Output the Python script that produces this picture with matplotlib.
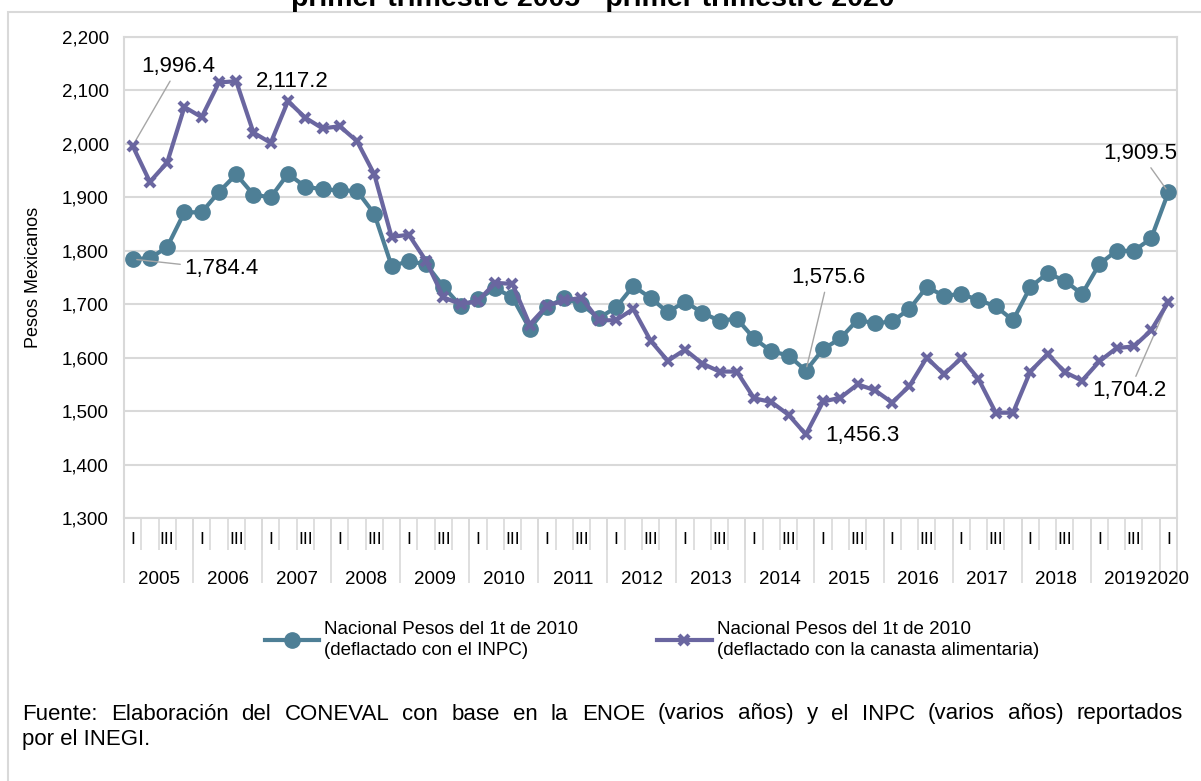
import matplotlib
matplotlib.use("Agg")
import matplotlib.pyplot as plt
from matplotlib.patches import Rectangle
from matplotlib.ticker import FuncFormatter
import numpy as np

plt.rcParams['font.family'] = ['Liberation Sans', 'DejaVu Sans']

# datos trimestrales, 1t 2005 - 1t 2020
anios = [str(a) for a in range(2005, 2021)]
trimestres = ["I", "II", "III", "IV"]

inpc = [1784.4, 1786, 1807, 1872,
        1872, 1910, 1943, 1905,
        1900, 1944, 1920, 1915,
        1913, 1912, 1869, 1772,
        1780, 1775, 1733, 1697,
        1709, 1730, 1713, 1654,
        1695, 1711, 1700, 1674,
        1694, 1734, 1712, 1685,
        1705, 1684, 1669, 1673,
        1636, 1612, 1604, 1575.6,
        1616, 1636, 1671, 1664,
        1668, 1691, 1732, 1716,
        1719, 1708, 1696, 1670,
        1732, 1758, 1744, 1719,
        1775, 1800, 1800, 1823,
        1909.5]

canasta = [1996.4, 1929, 1965, 2069,
           2050, 2115, 2117.2, 2021,
           2002, 2080, 2049, 2029,
           2033, 2005, 1943, 1826,
           1830, 1781, 1713, 1700,
           1706, 1740, 1738, 1662,
           1697, 1707, 1712, 1670,
           1670, 1691, 1632, 1594,
           1615, 1589, 1574, 1574,
           1524, 1517, 1493, 1456.3,
           1518, 1525, 1550, 1539,
           1516, 1547, 1600, 1569,
           1599, 1560, 1497, 1497,
           1574, 1607, 1573, 1557,
           1593, 1618, 1621, 1651,
           1704.2]

etiqueta_inpc = "Nacional Pesos del 1t de 2010\n(deflactado con el INPC)"
etiqueta_canasta = "Nacional Pesos del 1t de 2010\n(deflactado con la canasta alimentaria)"
titulo = "primer trimestre 2005 - primer trimestre 2020"
fuente = ["Fuente: Elaboración del CONEVAL con base en la ENOE (varios años) y el INPC (varios años) reportados",
          "por el INEGI."]

color_inpc = "#4E7F96"
color_canasta = "#6A66A0"
gris = "#D9D9D9"

n = len(inpc)
x = np.arange(n)
W, H = 1201, 781

fig = plt.figure(figsize=(12.01, 7.81), dpi=100)
ax = fig.add_axes([124 / W, 1 - 518 / H, (1177 - 124) / W, (518 - 37) / H])

ax.plot(x, inpc, color=color_inpc, lw=3, marker="o", markersize=11, label=etiqueta_inpc, zorder=3)
ax.plot(x, canasta, color=color_canasta, lw=3, marker="x", markersize=7.5, mew=3, label=etiqueta_canasta, zorder=4)

ax.set_xlim(-0.5, n - 0.5)
ax.set_ylim(1300, 2200)
ax.set_yticks(np.arange(1300, 2201, 100))
ax.yaxis.set_major_formatter(FuncFormatter(lambda v, p: f"{v:,.0f}"))
ax.grid(axis="y", color=gris, lw=1.5)
ax.set_axisbelow(True)
for s in ax.spines.values():
    s.set_color(gris)
    s.set_linewidth(1.5)
ax.tick_params(axis="y", length=0, pad=11, labelsize=13.5)
ax.set_ylabel("Pesos Mexicanos", fontsize=13, labelpad=14)

# eje de categorias en dos niveles
qlab = [("I" if i % 4 == 0 else "III" if i % 4 == 2 else "") for i in range(n)]
ax.set_xticks(x, qlab)
ax.set_xticks(np.arange(-0.5, n, 1), minor=True)
ax.tick_params(axis="x", which="major", length=0, pad=10, labelsize=12.5)
ax.tick_params(axis="x", which="minor", length=23, width=1.2, color=gris)

sec = ax.secondary_xaxis("bottom")
limites = list(np.arange(-0.5, n, 4)) + [n - 0.5]
centros = [(limites[i] + limites[i + 1]) / 2 for i in range(len(limites) - 1)]
sec.set_xticks(limites, [""] * len(limites))
sec.set_xticks(centros, anios, minor=True)
sec.tick_params(axis="x", which="major", length=47, width=1.2, color=gris)
sec.tick_params(axis="x", which="minor", length=0, pad=38, labelsize=13.5)
sec.spines["bottom"].set_visible(False)

# etiquetas de datos
lider = dict(arrowstyle="-", color="#A6A6A6", lw=1, shrinkA=1, shrinkB=3)
fs = 16
ax.annotate("1,996.4", (0, canasta[0]), xytext=(33, 57), textcoords="offset points",
            ha="center", va="center", fontsize=fs, arrowprops=lider)
ax.annotate("2,117.2", (6, canasta[6]), xytext=(40, 0), textcoords="offset points",
            ha="center", va="center", fontsize=fs)
ax.annotate("1,784.4", (0, inpc[0]), xytext=(64, -7), textcoords="offset points",
            ha="center", va="center", fontsize=fs, arrowprops=lider)
ax.annotate("1,575.6", (39, inpc[39]), xytext=(16, 67), textcoords="offset points",
            ha="center", va="center", fontsize=fs, arrowprops=lider)
ax.annotate("1,456.3", (39, canasta[39]), xytext=(41, -1), textcoords="offset points",
            ha="center", va="center", fontsize=fs)
ax.annotate("1,909.5", (60, inpc[60]), xytext=(-20, 28), textcoords="offset points",
            ha="center", va="center", fontsize=fs, arrowprops=lider)
ax.annotate("1,704.2", (60, canasta[60]), xytext=(-28, -64), textcoords="offset points",
            ha="center", va="center", fontsize=fs, arrowprops=lider)

leg = fig.legend(loc="center", bbox_to_anchor=(652 / W, 1 - 640 / H), ncol=2, frameon=False,
                 fontsize=13.5, handlelength=2.9, handletextpad=0.3, columnspacing=4.2)
for t in leg.get_texts():
    t.set_linespacing(1.3)

fig.text(593 / W, 1 - 6 / H, titulo, ha="center", va="baseline", fontsize=20.5, fontweight="bold")

# texto de la fuente, primera linea justificada
x0, x1 = 22, 1183
palabras = [fig.text(0, 1 - 714 / H, p, ha="left", va="center", fontsize=16) for p in fuente[0].split()]
rend = fig.canvas.get_renderer()
anchos = [t.get_window_extent(rend).width for t in palabras]
hueco = (x1 - x0 - sum(anchos)) / (len(palabras) - 1)
pos = x0
for t, a in zip(palabras, anchos):
    t.set_x(pos / W)
    pos += a + hueco
fig.text(x0 / W, 1 - 740 / H, fuente[1], ha="left", va="center", fontsize=16)

fig.patches.append(Rectangle((8 / W, -0.1), 1.2, 1.1 - 12 / H, transform=fig.transFigure,
                             fill=False, ec=gris, lw=1.5))

fig.savefig("out.png", dpi=100)
